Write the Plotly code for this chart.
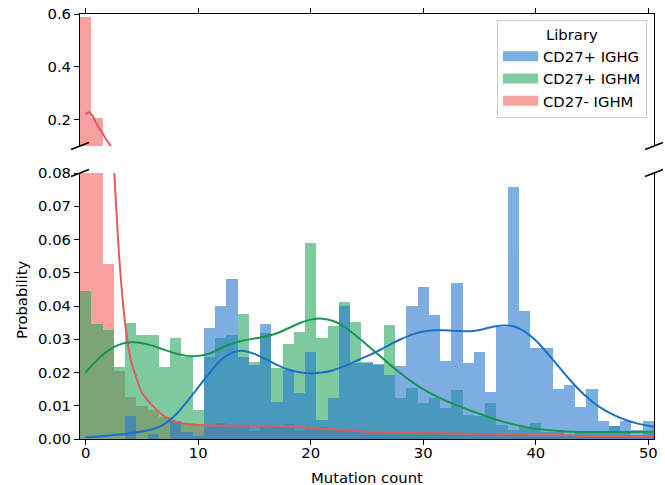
import plotly.graph_objects as go

# ---------------- data ----------------
mutation_bins = list(range(51))

cd27p_ighg = [0.0, 0.0, 0.0, 0.0, 0.0068, 0.0, 0.0014, 0.0, 0.0053, 0.0020,
              0.0010, 0.0333, 0.0399, 0.0482, 0.0248, 0.0223, 0.0345, 0.0110, 0.0208, 0.0138,
              0.0263, 0.0056, 0.0123, 0.0399, 0.0228, 0.0228, 0.0225, 0.0193, 0.0220, 0.0399,
              0.0457, 0.0372, 0.0236, 0.0469, 0.0228, 0.0262, 0.0140, 0.0337, 0.0759, 0.0386,
              0.0275, 0.0275, 0.0150, 0.0163, 0.0097, 0.0150, 0.0055, 0.0040, 0.0055, 0.0026,
              0.0055]

cd27p_ighm = [0.0444, 0.0345, 0.0327, 0.0218, 0.0348, 0.0312, 0.0312, 0.0218, 0.0303, 0.0248,
              0.0088, 0.0248, 0.0305, 0.0312, 0.0377, 0.0233, 0.0319, 0.0213, 0.0285, 0.0322,
              0.0589, 0.0303, 0.0340, 0.0413, 0.0353, 0.0232, 0.0222, 0.0342, 0.0123, 0.0153,
              0.0108, 0.0123, 0.0093, 0.0146, 0.0073, 0.0070, 0.0108, 0.0043, 0.0028, 0.0036,
              0.0048, 0.0022, 0.0020, 0.0012, 0.0020, 0.0018, 0.0022, 0.0040, 0.0020, 0.0012,
              0.0020]

cd27n_ighm = [0.590, 0.205, 0.0527, 0.0205, 0.0127, 0.0100, 0.0088, 0.0065, 0.0050, 0.0048,
              0.0045, 0.0035, 0.0048, 0.0040, 0.0038, 0.0025, 0.0043, 0.0040, 0.0045, 0.0025,
              0.0035, 0.0035, 0.0030, 0.0030, 0.0028, 0.0020, 0.0020, 0.0018, 0.0020, 0.0015,
              0.0020, 0.0018, 0.0015, 0.0020, 0.0015, 0.0015, 0.0013, 0.0015, 0.0012, 0.0013,
              0.0010, 0.0013, 0.0010, 0.0012, 0.0008, 0.0010, 0.0008, 0.0008, 0.0010, 0.0006,
              0.0010]

# density curves
kde_ighg_x = [0, 2, 4, 6, 7, 8, 9, 10, 11, 12, 13, 14, 15, 16, 17, 18, 19, 20, 21, 22,
              23, 24, 25, 26, 27, 28, 29, 30, 31, 32, 33, 34, 35, 36, 37, 38, 39, 40, 41, 42,
              43, 44, 45, 46, 47, 48, 49, 50, 50.5]
kde_ighg_y = [0.0005, 0.0010, 0.0017, 0.0030, 0.0045, 0.0073, 0.0112, 0.0155, 0.0198, 0.0237,
              0.0259, 0.0265, 0.0256, 0.0240, 0.0223, 0.0209, 0.0201, 0.0198, 0.0200, 0.0207,
              0.0219, 0.0234, 0.0249, 0.0265, 0.0283, 0.0300, 0.0314, 0.0323, 0.0327, 0.0327,
              0.0325, 0.0324, 0.0328, 0.0336, 0.0341, 0.0339, 0.0323, 0.0296, 0.0259, 0.0219,
              0.0179, 0.0143, 0.0113, 0.0089, 0.0071, 0.0057, 0.0047, 0.0040, 0.0037]

kde_ighm_x = [0, 1, 2, 3, 4, 5, 6, 7, 8, 9, 10, 11, 12, 13, 14, 15, 16, 17, 18, 19,
              20, 21, 22, 23, 24, 25, 26, 27, 28, 29, 30, 31, 32, 33, 34, 35, 36, 37, 38, 39,
              40, 41, 42, 44, 46, 48, 50, 50.5]
kde_ighm_y = [0.0200, 0.0237, 0.0266, 0.0284, 0.0291, 0.0289, 0.0280, 0.0268, 0.0257, 0.0250,
              0.0250, 0.0257, 0.0273, 0.0287, 0.0296, 0.0302, 0.0308, 0.0318, 0.0333, 0.0348,
              0.0359, 0.0362, 0.0355, 0.0337, 0.0311, 0.0283, 0.0254, 0.0225, 0.0197, 0.0172,
              0.0150, 0.0131, 0.0115, 0.0101, 0.0088, 0.0076, 0.0064, 0.0053, 0.0044, 0.0037,
              0.0031, 0.0027, 0.0024, 0.0021, 0.0021, 0.0021, 0.0022, 0.0022]

kde_neg_x = [0, 0.3, 0.6, 1, 1.5, 2, 2.5, 3, 3.5, 4, 4.5, 5, 6, 7, 8, 9, 10, 12, 14, 16,
             18, 20, 22, 24, 26, 28, 30, 32, 34, 36, 38, 40, 42, 44, 46, 48, 50, 50.5]
kde_neg_y = [0.220, 0.228, 0.215, 0.182, 0.148, 0.114, 0.083, 0.054, 0.035, 0.024,
             0.0185, 0.0140, 0.0098, 0.0068, 0.0052, 0.0045, 0.0042, 0.0040, 0.0040, 0.0040,
             0.0038, 0.0033, 0.0029, 0.0024, 0.0020, 0.0018, 0.0018, 0.0017, 0.0016, 0.0014,
             0.0013, 0.0012, 0.0012, 0.0010, 0.0009, 0.0009, 0.0008, 0.0008]

series_names = ["CD27+ IGHG", "CD27+ IGHM", "CD27- IGHM"]
bar_colors = {"CD27+ IGHG": "rgb(38,122,208)", "CD27+ IGHM": "rgb(40,168,96)", "CD27- IGHM": "rgb(246,98,98)"}
line_colors = {"CD27+ IGHG": "rgb(28,112,200)", "CD27+ IGHM": "rgb(24,150,80)", "CD27- IGHM": "rgb(224,92,92)"}

# ---------------- figure ----------------
W, H = 665, 485
ML, MR, MT, MB = 80, 11, 14, 46
PW, PH = W - ML - MR, H - MT - MB
bottom_py = H - MB


def pyp(py):
    return (bottom_py - py) / PH


def pxp(px):
    return (px - ML) / PW


fig = go.Figure()

hist = {"CD27- IGHM": cd27n_ighm, "CD27+ IGHM": cd27p_ighm, "CD27+ IGHG": cd27p_ighg}
kdes = {"CD27- IGHM": (kde_neg_x, kde_neg_y), "CD27+ IGHM": (kde_ighm_x, kde_ighm_y),
        "CD27+ IGHG": (kde_ighg_x, kde_ighg_y)}
draw_order = ["CD27- IGHM", "CD27+ IGHM", "CD27+ IGHG"]

for xa, ya in (("x", "y"), ("x2", "y2")):
    for name in draw_order:
        fig.add_trace(go.Bar(x=mutation_bins, y=hist[name], width=1.0, name=name,
                             marker=dict(color=bar_colors[name], line=dict(width=0)),
                             opacity=0.6, showlegend=False, xaxis=xa, yaxis=ya,
                             hoverinfo="skip"))
    for name in draw_order:
        kx, ky = kdes[name]
        fig.add_trace(go.Scatter(x=kx, y=ky, mode="lines", line=dict(color=line_colors[name], width=2,
                                 shape="spline", smoothing=0.8),
                                 showlegend=False, xaxis=xa, yaxis=ya, hoverinfo="skip"))

# legend proxies
for name in series_names:
    c = bar_colors[name].replace("rgb", "rgba").replace(")", ",0.6)")
    fig.add_trace(go.Scatter(x=[None], y=[None], mode="lines", name=name,
                             line=dict(color=c, width=10), xaxis="x", yaxis="y"))

FS = 14.8
font = dict(family="DejaVu Sans", size=FS, color="#000000")
axis_common = dict(showline=True, linecolor="#000000", linewidth=1, ticks="outside",
                   ticklen=5, tickwidth=1, tickcolor="#000000", showgrid=False,
                   zeroline=False, tickfont=font, automargin=False)

dom_bottom = [0, pyp(173)]
dom_top = [pyp(146), 1]

fig.update_layout(
    template="none",
    width=W, height=H,
    margin=dict(l=ML, r=MR, t=MT, b=MB, autoexpand=False),
    paper_bgcolor="white", plot_bgcolor="white",
    font=font,
    barmode="overlay", bargap=0,
    xaxis=dict(axis_common, range=[-0.5, 50.5], tickvals=[0, 10, 20, 30, 40, 50],
               anchor="y", ticklabelstandoff=-5),
    yaxis=dict(axis_common, range=[0, 0.08], domain=dom_bottom, anchor="x", mirror=True,
               tickvals=[0, 0.01, 0.02, 0.03, 0.04, 0.05, 0.06, 0.07, 0.08],
               ticktext=["0.00", "0.01", "0.02", "0.03", "0.04", "0.05", "0.06", "0.07", "0.08"]),
    xaxis2=dict(axis_common, range=[-0.5, 50.5], tickvals=[0, 10, 20, 30, 40, 50],
                showticklabels=False, side="top", anchor="y2", matches="x"),
    yaxis2=dict(axis_common, range=[0.1, 0.6], domain=dom_top, anchor="x2", mirror=True,
                tickvals=[0.2, 0.4, 0.6], ticktext=["0.2", "0.4", "0.6"]),
    legend=dict(x=pxp(497), y=pyp(20), xanchor="left", yanchor="top",
                bgcolor="rgba(255,255,255,0.8)", bordercolor="#cccccc", borderwidth=1,
                font=font, title=dict(text="Library", font=font, side="top center"),
                itemwidth=35),
    showlegend=True,
)

fig.add_annotation(text="Probability", x=pxp(22), y=pyp(300), xref="paper", yref="paper",
                   textangle=-90, showarrow=False, font=font, xanchor="center", yanchor="middle")
fig.add_annotation(text="Mutation count", x=pxp(367), y=pyp(477), xref="paper", yref="paper",
                   showarrow=False, font=font, xanchor="center", yanchor="middle")

# break marks
for cx in (80, 654):
    for cy in (146, 173):
        fig.add_shape(type="line", xref="paper", yref="paper",
                      x0=pxp(cx - 9), y0=pyp(cy + 3.5), x1=pxp(cx + 9), y1=pyp(cy - 3.5),
                      line=dict(color="#000000", width=1.5))

fig.write_html("out.html", config={"displayModeBar": False},
               post_script="document.body.style.margin='0px';document.body.style.overflow='hidden';")
